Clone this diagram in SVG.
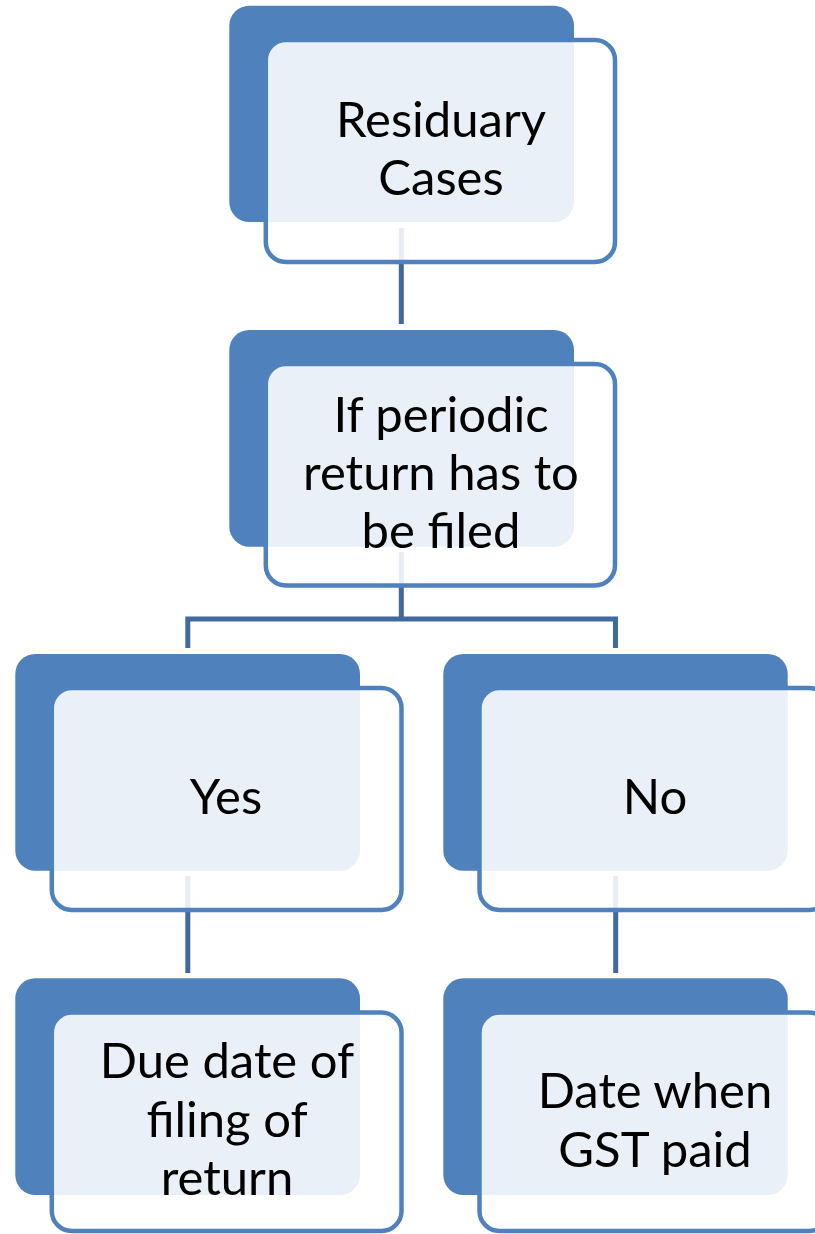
<svg xmlns="http://www.w3.org/2000/svg" width="815" height="1234" viewBox="0 0 815 1234">
<style>
.back{fill:#4f81bd;}
.front{fill:#ffffff;fill-opacity:0.88;stroke:#4f81bd;stroke-width:4.5;}
.conn{fill:none;stroke:#41699f;stroke-width:5;}
.lbl{font-family:Lato,"Liberation Sans",sans-serif;font-size:49px;fill:#000000;text-anchor:middle;}
</style>
<rect width="815" height="1234" fill="#ffffff"/>
<g id="backs">
<rect class="back" x="229.3" y="5.7" width="344.7" height="216.3" rx="20"/>
<rect class="back" x="229.3" y="330" width="344.7" height="216.7" rx="20"/>
<rect class="back" x="15.3" y="654" width="344.7" height="216.7" rx="20"/>
<rect class="back" x="443.3" y="654" width="344.4" height="216.7" rx="20"/>
<rect class="back" x="15.3" y="978.3" width="344.7" height="216.7" rx="20"/>
<rect class="back" x="443.3" y="978.3" width="344.4" height="216.7" rx="20"/>
</g>
<g id="connectors">
<path class="conn" d="M401.3,228 V324"/>
<path class="conn" d="M401.3,552 V619"/>
<path class="conn" d="M187.8,648 V619 H615.5 V648"/>
<path class="conn" d="M187.8,876 V973"/>
<path class="conn" d="M615.7,876 V973"/>
</g>
<g id="node-residuary">
<rect class="front" x="265.8" y="40" width="349.2" height="222" rx="20"/>
<text class="lbl" x="441" y="137">Residuary</text>
<text class="lbl" x="441" y="195">Cases</text>
</g>
<g id="node-periodic">
<rect class="front" x="265.8" y="364" width="349.2" height="221.5" rx="20"/>
<text class="lbl" x="441" y="432">If periodic</text>
<text class="lbl" x="441" y="490">return has to</text>
<text class="lbl" x="441" y="548">be filed</text>
</g>
<g id="node-yes">
<rect class="front" x="51.8" y="688" width="349.7" height="222" rx="20"/>
<text class="lbl" x="226" y="814">Yes</text>
</g>
<g id="node-no">
<rect class="front" x="479.5" y="688" width="349.5" height="222" rx="20"/>
<text class="lbl" x="655" y="814">No</text>
</g>
<g id="node-due">
<rect class="front" x="51.8" y="1012.5" width="349.7" height="218.5" rx="20"/>
<text class="lbl" x="227" y="1078">Due date of</text>
<text class="lbl" x="227" y="1137">filing of</text>
<text class="lbl" x="227" y="1195">return</text>
</g>
<g id="node-date">
<rect class="front" x="479.5" y="1012.5" width="349.5" height="218.5" rx="20"/>
<text class="lbl" x="655" y="1108">Date when</text>
<text class="lbl" x="655" y="1167">GST paid</text>
</g>
</svg>
